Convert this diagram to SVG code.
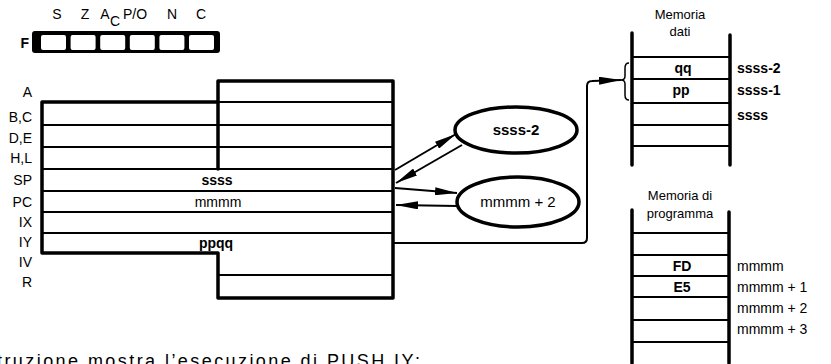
<svg xmlns="http://www.w3.org/2000/svg" width="831" height="364" viewBox="0 0 831 364">
<style>
text{font-family:"Liberation Sans",Arial,sans-serif;fill:#000;font-size:14px}
.b{font-weight:bold}
.m{text-anchor:middle}
.e{text-anchor:end}
.thick{fill:none;stroke:#000;stroke-width:3.5;stroke-linecap:round;stroke-linejoin:round}
.thin{fill:none;stroke:#000;stroke-width:2.2}
.ln{fill:none;stroke:#000;stroke-width:2}
</style>
<defs>
<marker id="ah" viewBox="0 0 22 8" refX="22" refY="4" markerWidth="22" markerHeight="8" markerUnits="userSpaceOnUse" orient="auto">
<path d="M0,0 L22,4 L0,8 z" fill="#000"/>
</marker>
</defs>
<rect width="831" height="364" fill="#fff"/>

<g id="flags">
<text x="57" y="19" class="m">S</text>
<text x="85" y="19" class="m">Z</text>
<text x="105" y="19" class="m">A</text>
<text x="115" y="26" class="m">C</text>
<text x="135" y="19" class="m">P/O</text>
<text x="172" y="19" class="m">N</text>
<text x="201" y="19" class="m">C</text>
<text x="29" y="48" class="e b">F</text>
<rect x="32" y="31" width="188" height="22" rx="3" fill="#000"/>
<rect x="41" y="35" width="25" height="15" rx="2" fill="#fff"/>
<rect x="70.6" y="35" width="25" height="15" rx="2" fill="#fff"/>
<rect x="100.2" y="35" width="25" height="15" rx="2" fill="#fff"/>
<rect x="129.8" y="35" width="25" height="15" rx="2" fill="#fff"/>
<rect x="159.4" y="35" width="25" height="15" rx="2" fill="#fff"/>
<rect x="189" y="35" width="25" height="15" rx="2" fill="#fff"/>
</g>

<g id="registers">
<g class="thin">
<path d="M218,102 H393 M42,125 H393 M42,147 H393 M42,169 H393 M42,191 H393 M42,212 H393 M42,233 H393 M218,275 H393"/>
</g>
<path class="thick" d="M218,102 V169"/>
<path class="thick" d="M218,81 H393 V298 H218 V253 H42 V102 H218 Z"/>
<text x="32" y="97" class="e">A</text>
<text x="32" y="122" class="e">B,C</text>
<text x="32" y="143" class="e">D,E</text>
<text x="32" y="163" class="e">H,L</text>
<text x="32" y="185" class="e">SP</text>
<text x="32" y="207" class="e">PC</text>
<text x="32" y="227" class="e">IX</text>
<text x="32" y="247" class="e">IY</text>
<text x="32" y="267" class="e">IV</text>
<text x="32" y="287" class="e">R</text>
<text x="217" y="185" class="m b">ssss</text>
<text x="218" y="207" class="m">mmmm</text>
<text x="216" y="248" class="m b">ppqq</text>
</g>

<g id="sp-temp">
<ellipse cx="516" cy="130" rx="61" ry="23" class="thick"/>
<text x="516" y="135" class="m b" style="font-size:15px">ssss-2</text>
</g>

<g id="pc-temp">
<ellipse cx="518" cy="202" rx="61" ry="25" class="thick"/>
<text x="518" y="207" class="m" style="font-size:15px">mmmm + 2</text>
</g>

<g id="mem-dati">
<text x="680" y="19" class="m" style="font-size:13px">Memoria</text>
<text x="680" y="36" class="m" style="font-size:13px">dati</text>
<path class="thin" d="M632,57 H730 M632,79 H730 M632,103 H730 M632,125 H730 M632,146 H730"/>
<path class="thick" d="M632,33 V165 M730,35 V165"/>
<text x="683" y="73" class="m b">qq</text>
<text x="681" y="95" class="m b">pp</text>
<text x="737" y="73" class="b">ssss-2</text>
<text x="737" y="95" class="b">ssss-1</text>
<text x="737" y="120" class="b">ssss</text>
<path d="M629,63 Q625,63 625,68 V76 Q625,80 621,80 Q625,80 625,84 V95 Q625,100 629,100" fill="none" stroke="#000" stroke-width="1.5"/>
</g>

<g id="mem-prog">
<text x="680" y="200" class="m" style="font-size:13px">Memoria di</text>
<text x="680" y="218" class="m" style="font-size:13px">programma</text>
<path class="thin" d="M632,233 H728 M632,255 H728 M632,276 H728 M632,297 H728 M632,320 H728 M632,342 H728"/>
<path class="thick" d="M632,210 V363 M729,212 V363"/>
<text x="682" y="271" class="m b">FD</text>
<text x="682" y="292" class="m b">E5</text>
<text x="737" y="271">mmmm</text>
<text x="737" y="292">mmmm + 1</text>
<text x="737" y="313">mmmm + 2</text>
<text x="737" y="334">mmmm + 3</text>
</g>

<g id="connectors">
<path class="ln" d="M395,170 L456,134" marker-end="url(#ah)"/>
<path class="ln" d="M462,145 L396,183" marker-end="url(#ah)"/>
<path class="ln" d="M395,188 L457,193" marker-end="url(#ah)"/>
<path class="ln" d="M457,206 L396,205" marker-end="url(#ah)"/>
<path class="ln" d="M393,243 H582 Q587,243 587,238 V86 Q587,81 592,81 L621,80" marker-end="url(#ah)"/>
</g>

<text x="-3" y="367" textLength="423" lengthAdjust="spacing" style="font-size:18px">truzione mostra l’esecuzione di PUSH IY:</text>
</svg>
